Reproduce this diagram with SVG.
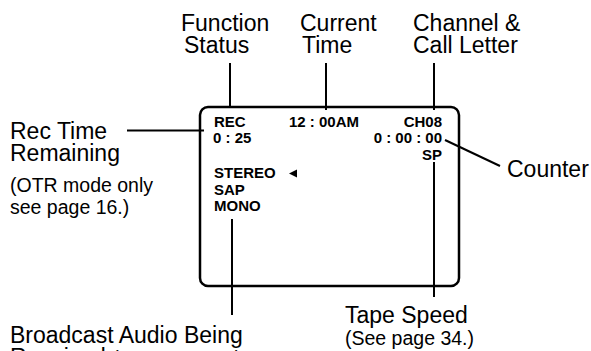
<svg xmlns="http://www.w3.org/2000/svg" width="591" height="351" viewBox="0 0 591 351">
<style>
.lbl{font-family:"Liberation Sans",Arial,sans-serif;font-size:23px;fill:#000}
.sm{font-family:"Liberation Sans",Arial,sans-serif;font-size:19.5px;fill:#000}
.scr{font-family:"Liberation Sans",Arial,sans-serif;font-size:15px;font-weight:bold;fill:#000}
.ln{stroke:#000;stroke-width:2;fill:none}
</style>
<rect width="591" height="351" fill="#fff"/>
<g id="screen">
<rect x="200" y="107" width="259" height="179" rx="8" fill="none" stroke="#000" stroke-width="2.5"/>
<text class="scr" x="214" y="127">REC</text>
<text class="scr" x="289" y="127">12 : 00AM</text>
<text class="scr" x="442" y="127" text-anchor="end">CH08</text>
<text class="scr" x="213" y="143">0 : 25</text>
<text class="scr" x="442" y="143" text-anchor="end">0 : 00 : 00</text>
<text class="scr" x="442" y="160" text-anchor="end">SP</text>
<text class="scr" x="214" y="178">STEREO</text>
<polygon points="289,173.5 297,169.5 297,177.5" fill="#000"/>
<text class="scr" x="214" y="195">SAP</text>
<text class="scr" x="214" y="211">MONO</text>
</g>
<g id="function-status">
<text class="lbl" x="181" y="31">Function</text>
<text class="lbl" x="184" y="53">Status</text>
</g>
<g id="current-time">
<text class="lbl" x="300" y="31">Current</text>
<text class="lbl" x="302" y="53">Time</text>
</g>
<g id="channel">
<text class="lbl" x="413" y="31">Channel &amp;</text>
<text class="lbl" x="413" y="53">Call Letter</text>
</g>
<g id="rec-time">
<text class="lbl" x="10" y="139">Rec Time</text>
<text class="lbl" x="10" y="161">Remaining</text>
<text class="sm" x="10" y="192">(OTR mode only</text>
<text class="sm" x="10" y="214">see page 16.)</text>
</g>
<g id="counter">
<text class="lbl" x="507" y="177">Counter</text>
</g>
<g id="tape-speed">
<text class="lbl" x="345" y="323">Tape Speed</text>
<text class="sm" x="345" y="345">(See page 34.)</text>
</g>
<g id="broadcast-audio">
<text class="lbl" x="10" y="343">Broadcast Audio Being</text>
<text x="10" y="365"><tspan class="lbl">Received </tspan><tspan class="sm">(See page 33.)</tspan></text>
</g>
<g id="connectors">
<line class="ln" x1="230" y1="63" x2="230" y2="108"/>
<line class="ln" x1="326" y1="63" x2="326" y2="110"/>
<line class="ln" x1="434" y1="63" x2="434" y2="110"/>
<line class="ln" x1="127" y1="130.5" x2="204" y2="130.5"/>
<line class="ln" x1="445" y1="140" x2="500" y2="166"/>
<line class="ln" x1="434" y1="162" x2="434" y2="297"/>
<line class="ln" x1="232" y1="219" x2="232" y2="315"/>
</g>
</svg>
